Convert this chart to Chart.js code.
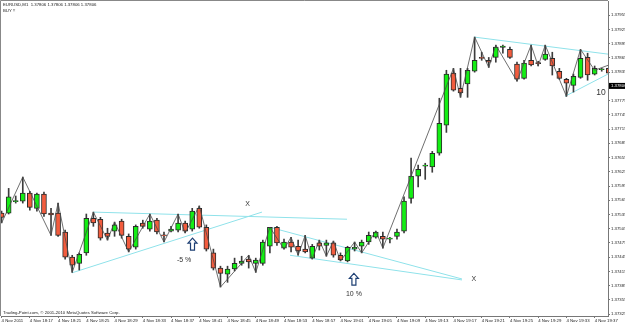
<!DOCTYPE html>
<html><head><meta charset="utf-8">
<script src="https://cdn.jsdelivr.net/npm/chart.js@4.4.1/dist/chart.umd.min.js"></script>
<style>html,body{margin:0;padding:0;background:#fff;overflow:hidden}canvas{display:block}</style>
</head><body>
<canvas id="c" width="625" height="324"></canvas>
<script>
const symbolTitle = 'EURUSD,M1';
const headerQuote = ['1.37806','1.37806','1.37806','1.37806'];
const signalText = 'BUY !!';
const copyrightText = 'Trading-Point.com, \u00a9 2001-2010 MetaQuotes Software Corp.';
const lastPrice = 1.37806;

const barTimes = ['18:13','18:14','18:15','18:16','18:17','18:18','18:19','18:20','18:21','18:22',
'18:23','18:24','18:25','18:26','18:27','18:28','18:29','18:30','18:31','18:32',
'18:33','18:34','18:35','18:36','18:37','18:38','18:39','18:40','18:41','18:42',
'18:43','18:44','18:45','18:46','18:47','18:48','18:49','18:50','18:51','18:52',
'18:53','18:54','18:55','18:56','18:57','18:58','18:59','19:00','19:01','19:02',
'19:03','19:04','19:05','19:06','19:07','19:08','19:09','19:10','19:11','19:12',
'19:13','19:14','19:15','19:16','19:17','19:18','19:19','19:20','19:21','19:22',
'19:23','19:24','19:25','19:26','19:27','19:28','19:29','19:30','19:31','19:32',
'19:33','19:34','19:35','19:36','19:37','19:38','19:39'];

const openP = [1.37538,1.37538,1.37562,1.37563,1.37580,1.37548,1.37578,1.37538,1.37538,1.37498,
1.37445,1.37432,1.37454,1.37527,1.37525,1.37496,1.37500,1.37521,1.37489,1.37466,
1.37517,1.37504,1.37523,1.37491,1.37500,1.37502,1.37517,1.37504,1.37548,1.37508,
1.37454,1.37422,1.37409,1.37420,1.37432,1.37441,1.37432,1.37432,1.37468,1.37508,
1.37464,1.37477,1.37468,1.37462,1.37443,1.37475,1.37470,1.37475,1.37449,1.37437,
1.37462,1.37468,1.37477,1.37487,1.37489,1.37483,1.37489,1.37500,1.37569,1.37616,
1.37637,1.37635,1.37664,1.37723,1.37833,1.37801,1.37810,1.37837,1.37866,1.37860,
1.37866,1.37887,1.37883,1.37852,1.37822,1.37860,1.37854,1.37862,1.37864,1.37837,
1.37820,1.37807,1.37824,1.37866,1.37831,1.37840,1.37843];
const highP = [1.37542,1.37590,1.37574,1.37614,1.37584,1.37580,1.37582,1.37548,1.37559,1.37502,
1.37449,1.37454,1.37536,1.37540,1.37529,1.37506,1.37519,1.37525,1.37494,1.37513,
1.37523,1.37536,1.37527,1.37498,1.37510,1.37536,1.37521,1.37548,1.37553,1.37513,
1.37462,1.37426,1.37426,1.37443,1.37447,1.37449,1.37443,1.37481,1.37508,1.37510,
1.37483,1.37487,1.37481,1.37491,1.37472,1.37481,1.37481,1.37479,1.37454,1.37468,
1.37477,1.37481,1.37498,1.37500,1.37498,1.37487,1.37504,1.37572,1.37654,1.37639,
1.37643,1.37668,1.37780,1.37839,1.37843,1.37843,1.37843,1.37909,1.37877,1.37866,
1.37892,1.37892,1.37888,1.37856,1.37860,1.37892,1.37858,1.37892,1.37877,1.37843,
1.37822,1.37831,1.37883,1.37875,1.37848,1.37843,1.37850];
const lowP = [1.37517,1.37536,1.37559,1.37559,1.37544,1.37542,1.37531,1.37491,1.37489,1.37441,
1.37413,1.37418,1.37449,1.37510,1.37481,1.37481,1.37489,1.37485,1.37456,1.37462,
1.37506,1.37500,1.37494,1.37477,1.37498,1.37498,1.37496,1.37500,1.37506,1.37458,
1.37418,1.37382,1.37392,1.37416,1.37428,1.37422,1.37413,1.37428,1.37454,1.37470,
1.37462,1.37456,1.37449,1.37454,1.37441,1.37460,1.37447,1.37445,1.37437,1.37435,
1.37458,1.37454,1.37472,1.37485,1.37464,1.37475,1.37483,1.37496,1.37559,1.37593,
1.37609,1.37624,1.37660,1.37708,1.37795,1.37782,1.37782,1.37835,1.37860,1.37845,
1.37856,1.37875,1.37864,1.37816,1.37820,1.37848,1.37848,1.37860,1.37829,1.37820,
1.37784,1.37793,1.37822,1.37818,1.37829,1.37837,1.37831];
const closeP = [1.37529,1.37572,1.37563,1.37580,1.37550,1.37578,1.37536,1.37534,1.37491,1.37445,
1.37428,1.37451,1.37527,1.37517,1.37485,1.37489,1.37513,1.37491,1.37462,1.37510,
1.37510,1.37521,1.37498,1.37490,1.37504,1.37517,1.37500,1.37542,1.37508,1.37462,
1.37422,1.37411,1.37420,1.37432,1.37437,1.37435,1.37439,1.37477,1.37508,1.37475,
1.37477,1.37466,1.37458,1.37456,1.37468,1.37468,1.37475,1.37449,1.37439,1.37466,
1.37466,1.37477,1.37491,1.37498,1.37483,1.37483,1.37498,1.37563,1.37616,1.37630,
1.37637,1.37664,1.37727,1.37831,1.37797,1.37791,1.37839,1.37860,1.37864,1.37856,
1.37888,1.37890,1.37866,1.37820,1.37854,1.37850,1.37853,1.37873,1.37848,1.37822,
1.37812,1.37826,1.37864,1.37829,1.37843,1.37841,1.37833];

const zigzagBars = [0,3,7,8,10,13,15,16,18,21,23,25,26,28,31,35,36,38,40,41,42,43,44,45,46,47,48,50,51,53,54,64,65,67,69,70,73,75,76,77,80,82,84,86];
const zigzagPrices = [1.37517,1.37614,1.37491,1.37559,1.37413,1.37540,1.37481,1.37519,1.37456,1.37536,1.37477,1.37536,1.37496,1.37553,1.37382,1.37449,1.37413,1.37508,1.37462,1.37487,1.37449,1.37491,1.37441,1.37481,1.37447,1.37479,1.37437,1.37477,1.37454,1.37500,1.37464,1.37843,1.37782,1.37909,1.37845,1.37892,1.37816,1.37892,1.37848,1.37892,1.37784,1.37883,1.37839,1.37850];

// trend lines: [startBar, endBar], [startPrice, endPrice]
const trendBars = [[9.97,36.88],[12.95,48.92],[38.02,65.21],[40.85,65.21],[66.91,85.89],[79.8,85.89]];
const trendPrices = [[1.37412,1.37540],[1.37540,1.37525],[1.37508,1.37399],[1.37449,1.37397],[1.37909,1.37873],[1.37784,1.37831]];

const noteTexts = ['X','X','-5 %','10 %','10'];
const noteBars = [34.85,66.9,25.85,49.9,84.9];
const notePrices = [1.37556,1.37399,1.37439,1.37367,1.37791];

const arrowBars = [27.04,49.9];
const arrowTips = [1.37485,1.37411];
const arrowBases = [1.37460,1.37386];

const tickBars = [0,4,8,12,16,20,24,28,32,36,40,44,48,52,56,60,64,68,72,76,80,84];
const tickLabels = ['4 Nov 2011','4 Nov 18:17','4 Nov 18:21','4 Nov 18:25','4 Nov 18:29','4 Nov 18:33','4 Nov 18:37','4 Nov 18:41','4 Nov 18:45','4 Nov 18:49','4 Nov 18:53','4 Nov 18:57','4 Nov 19:01','4 Nov 19:05','4 Nov 19:09','4 Nov 19:13','4 Nov 19:17','4 Nov 19:21','4 Nov 19:25','4 Nov 19:29','4 Nov 19:33','4 Nov 19:37'];
const priceTicks = [1.37325,1.37355,1.37385,1.37415,1.37445,1.37475,1.37505,1.37535,1.37565,1.37595,1.37625,1.37655,1.37685,1.37715,1.37745,1.37775,1.37805,1.37835,1.37865,1.37895,1.37925,1.37955];

const FONT = 'Liberation Sans, Arial, sans-serif';
const UP = '#14ee14', DOWN = '#f25c3e', OUTLINE = '#2a2a2a', WICK = '#3c3c3c', TREND = '#8fe2ea';

const datasets = [];
trendBars.forEach((b, k) => {
  datasets.push({type:'line', data:[{x:b[0], y:trendPrices[k][0]},{x:b[1], y:trendPrices[k][1]}],
    borderColor:TREND, borderWidth:1, pointRadius:0, tension:0, order:6});
});
datasets.push({type:'bar', data: barTimes.map((t,i)=>({x:i, y:[lowP[i], highP[i]]})),
  backgroundColor:WICK, barThickness:1, grouped:false, order:5, minBarLength:1});
datasets.push({type:'bar', data: barTimes.map((t,i)=>({x:i, y:[openP[i], closeP[i]]})),
  backgroundColor: barTimes.map((t,i)=> closeP[i] >= openP[i] ? UP : DOWN),
  borderColor: OUTLINE, borderWidth:1, borderSkipped:false, barThickness:5, grouped:false, minBarLength:1, order:4});
datasets.push({type:'line', data: zigzagBars.map((b,k)=>({x:b, y:zigzagPrices[k]})),
  borderColor:'#4a4a4a', borderWidth:0.8, pointRadius:0, tension:0, order:3});

const overlay = {
  id:'overlay',
  afterDatasetsDraw(chart){
    const {ctx, scales:{x, y}, chartArea:ca} = chart;
    ctx.save();
    ctx.beginPath(); ctx.rect(ca.left, ca.top, ca.right-ca.left, ca.bottom-ca.top); ctx.clip();
    // arrows
    arrowBars.forEach((b,k)=>{
      const cx = x.getPixelForValue(b), t = y.getPixelForValue(arrowTips[k]), bs = y.getPixelForValue(arrowBases[k]);
      const hh = 5;
      ctx.beginPath();
      ctx.moveTo(cx, t);
      ctx.lineTo(cx+4.5, t+hh); ctx.lineTo(cx+2, t+hh); ctx.lineTo(cx+2, bs);
      ctx.lineTo(cx-2, bs); ctx.lineTo(cx-2, t+hh); ctx.lineTo(cx-4.5, t+hh); ctx.closePath();
      ctx.fillStyle = '#fff'; ctx.fill();
      ctx.strokeStyle = '#1d3f73'; ctx.lineWidth = 1.2; ctx.stroke();
    });
    // notes
    ctx.fillStyle = '#333'; ctx.textAlign = 'center'; ctx.textBaseline = 'middle';
    noteTexts.forEach((s,k)=>{
      const sz = (s === '10') ? 8.5 : 7;
      ctx.font = sz + 'px ' + FONT;
      ctx.fillText(s, x.getPixelForValue(noteBars[k]), y.getPixelForValue(notePrices[k]));
    });
    ctx.restore();
    // header and footer
    ctx.save();
    ctx.fillStyle = '#222'; ctx.font = '4.3px ' + FONT; ctx.textBaseline = 'top'; ctx.textAlign = 'left';
    ctx.fillText(symbolTitle + '  ' + headerQuote.join(' '), ca.left + 2, ca.top + 2);
    ctx.fillText(signalText, ca.left + 2, ca.top + 8);
    ctx.textBaseline = 'bottom';
    ctx.fillText(copyrightText, ca.left + 2, ca.bottom - 1);
    // frame
    ctx.strokeStyle = '#888'; ctx.lineWidth = 1;
    ctx.beginPath(); ctx.moveTo(ca.left - 0.5, ca.bottom); ctx.lineTo(ca.left - 0.5, ca.top - 0.5); ctx.lineTo(ca.right, ca.top - 0.5); ctx.stroke();
    ctx.restore();
  },
  afterDraw(chart){
    const {ctx, scales:{y}, chartArea:ca} = chart;
    const py = y.getPixelForValue(lastPrice);
    ctx.save();
    ctx.fillStyle = '#000'; ctx.fillRect(ca.right + 1, py - 3, 30, 6);
    ctx.fillStyle = '#fff'; ctx.font = '4.3px ' + FONT; ctx.textBaseline = 'middle'; ctx.textAlign = 'left';
    ctx.fillText(lastPrice.toFixed(5), ca.right + 3, py);
    ctx.restore();
  }
};

new Chart(document.getElementById('c'), {
  type:'bar',
  data:{datasets},
  options:{
    responsive:false, animation:false, devicePixelRatio:1,
    layout:{padding:{top:1, left:1, right:0, bottom:0}},
    plugins:{legend:{display:false}, tooltip:{enabled:false}},
    scales:{
      x:{type:'linear', position:'bottom', min:-0.085, max:85.89, offset:false,
        afterBuildTicks:s=>{ s.ticks = tickBars.map(v=>({value:v})); },
        afterFit:s=>{ s.height = 8; s.paddingLeft = 0; s.paddingRight = 0; },
        ticks:{autoSkip:false, maxRotation:0, minRotation:0, align:'start', padding:0,
          font:{family:FONT, size:4.3}, color:'#222', callback:(v,i)=>tickLabels[i]},
        grid:{drawOnChartArea:false, drawTicks:true, tickLength:2, color:'#777', offset:false},
        border:{display:true, color:'#777', width:1}
      },
      y:{type:'linear', position:'right', min:1.37321, max:1.37985,
        afterBuildTicks:s=>{ s.ticks = priceTicks.map(v=>({value:v})); },
        afterFit:s=>{ s.width = 17; s.paddingTop = 0; s.paddingBottom = 0; },
        ticks:{autoSkip:false, padding:1, font:{family:FONT, size:4.3}, color:'#222', callback:v=>v.toFixed(5)},
        grid:{drawOnChartArea:false, drawTicks:true, tickLength:2, color:'#777'},
        border:{display:true, color:'#777', width:1}
      }
    }
  },
  plugins:[overlay]
});
</script>
</body></html>
